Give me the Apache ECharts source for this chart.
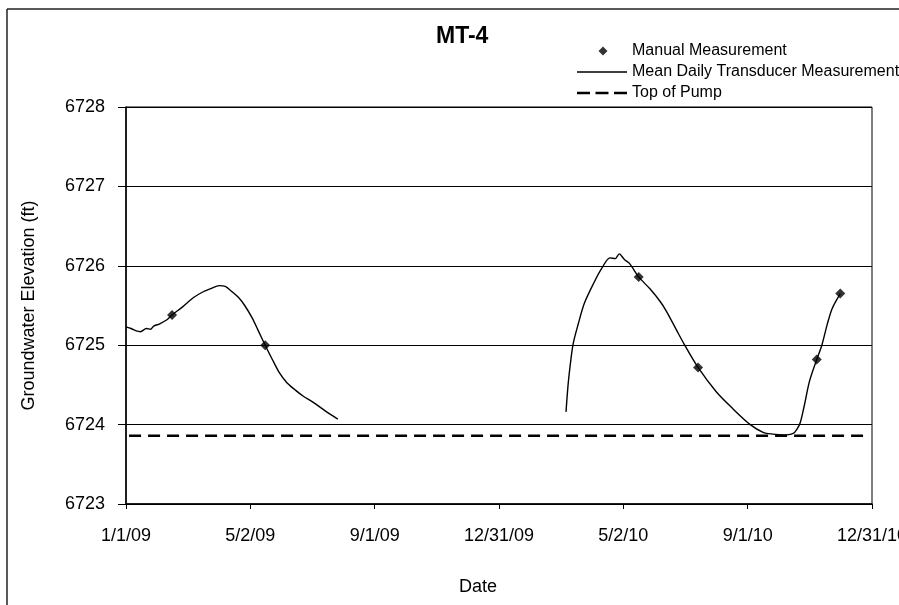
<!DOCTYPE html>
<html>
<head>
<meta charset="utf-8">
<script src="https://cdn.jsdelivr.net/npm/echarts@6/dist/echarts.min.js"></script>
<style>
  html, body { margin: 0; padding: 0; background: #fff; overflow: hidden; }
  #chart { width: 899px; height: 605px; }
</style>
</head>
<body>
<div id="chart"></div>
<script>
// ---- Data ----
const xTickLabels = ['1/1/09', '5/2/09', '9/1/09', '12/31/09', '5/2/10', '9/1/10', '12/31/10'];

const manualDates  = ['2009-02-15', '2009-05-17', '2010-05-17', '2010-07-14', '2010-11-07', '2010-11-30'];
const manualValues = [6725.38, 6725.00, 6725.86, 6724.72, 6724.82, 6725.65];

const transducer2009Dates = [
  '2009-01-01','2009-01-06','2009-01-11','2009-01-15','2009-01-21','2009-01-25','2009-01-28',
  '2009-02-03','2009-02-10','2009-02-15','2009-02-25','2009-03-08','2009-03-17','2009-03-26',
  '2009-04-02','2009-04-08','2009-04-14','2009-04-21','2009-04-27','2009-05-04','2009-05-10',
  '2009-05-17','2009-05-24','2009-05-31','2009-06-07','2009-06-14','2009-06-23','2009-07-03',
  '2009-07-15','2009-07-27'
];
const transducer2009Values = [
  6725.23, 6725.21, 6725.18, 6725.17, 6725.21, 6725.20, 6725.24,
  6725.27, 6725.32, 6725.38, 6725.48, 6725.60, 6725.67, 6725.72,
  6725.75, 6725.74, 6725.68, 6725.60, 6725.50, 6725.35, 6725.19,
  6725.00, 6724.82, 6724.65, 6724.53, 6724.45, 6724.36, 6724.28,
  6724.17, 6724.07
];

const transducer2010Dates = [
  '2010-03-07','2010-03-09','2010-03-11','2010-03-14','2010-03-19','2010-03-25','2010-04-03',
  '2010-04-11','2010-04-19','2010-04-24','2010-04-28','2010-05-03','2010-05-08','2010-05-17',
  '2010-05-28','2010-06-07','2010-06-13','2010-06-23','2010-07-01','2010-07-14','2010-08-01',
  '2010-08-17','2010-09-03','2010-09-16','2010-09-25','2010-10-05','2010-10-15','2010-10-19',
  '2010-10-22','2010-10-26','2010-10-31','2010-11-07','2010-11-12','2010-11-17','2010-11-22',
  '2010-11-30'
];
const transducer2010Values = [
  6724.16, 6724.50, 6724.74, 6725.02, 6725.27, 6725.53, 6725.78,
  6725.97, 6726.10, 6726.09, 6726.15, 6726.08, 6726.03, 6725.86,
  6725.71, 6725.55, 6725.43, 6725.19, 6725.00, 6724.72, 6724.41,
  6724.20, 6724.00, 6723.90, 6723.88, 6723.87, 6723.89, 6723.95,
  6724.03, 6724.25, 6724.55, 6724.82, 6725.00, 6725.25, 6725.46,
  6725.65
];

const topOfPumpDates  = ['2009-01-04', '2010-12-28'];
const topOfPumpValues = [6723.86, 6723.86];

// ---- helpers ----
const DAY = 86400000;
const origin = Date.UTC(2009, 0, 1);
function dayOf(s) {
  const p = s.split('-').map(Number);
  return (Date.UTC(p[0], p[1] - 1, p[2]) - origin) / DAY;
}
function pairs(dates, values) {
  return dates.map((d, i) => [dayOf(d), values[i]]);
}

const transducerData = pairs(transducer2009Dates, transducer2009Values)
  .concat([[300, null]])
  .concat(pairs(transducer2010Dates, transducer2010Values));

// legend icons (50 x 12 boxes; zero-area corner points fix the box size)
const BOX = 'M0,0L0.01,0Z M50,12L49.99,12Z ';
const iconDiamond = 'path://' + BOX + 'M26,1.5L30.5,6L26,10.5L21.5,6Z';
const iconSolid   = 'path://' + BOX + 'M0,5.3H50V6.7H0Z';
const iconDashed  = 'path://' + BOX + 'M0,4.75H13V7.25H0Z M18.5,4.75H31.5V7.25H18.5Z M37,4.75H50V7.25H37Z';

const FONT = "'Liberation Sans', Arial, sans-serif";
const chart = echarts.init(document.getElementById('chart'), null, { renderer: 'canvas' });

chart.setOption({
  animation: false,
  backgroundColor: '#fff',
  title: {
    text: 'MT-4',
    left: 431,
    top: 20,
    textStyle: { fontFamily: FONT, fontSize: 23, fontWeight: 'bold', color: '#000' }
  },
  legend: {
    orient: 'vertical',
    left: 572,
    top: 38,
    itemWidth: 50,
    itemHeight: 12,
    itemGap: 5,
    itemStyle: { color: '#000', borderWidth: 0 },
    lineStyle: { width: 0 },
    textStyle: { fontFamily: FONT, fontSize: 16, color: '#000', lineHeight: 16 },
    data: [
      { name: 'Manual Measurement', icon: iconDiamond },
      { name: 'Mean Daily Transducer Measurement', icon: iconSolid },
      { name: 'Top of Pump', icon: iconDashed }
    ]
  },
  grid: {
    left: 126, top: 107, right: 27, bottom: 101,
    show: true, borderColor: '#000', borderWidth: 1,
    containLabel: false, outerBoundsMode: 'none'
  },
  xAxis: {
    type: 'value',
    min: 0, max: 729, interval: 121.5,
    name: 'Date',
    nameLocation: 'middle',
    nameGap: 74,
    nameTextStyle: { fontFamily: FONT, fontSize: 18, color: '#000', padding: [0, 42, 0, 0] },
    axisLine: { show: true, lineStyle: { color: '#000', width: 1.5 } },
    axisTick: { show: true, length: 5, lineStyle: { color: '#000' } },
    axisLabel: {
      fontFamily: FONT, fontSize: 18, color: '#000', margin: 23,
      showMinLabel: true, showMaxLabel: true, hideOverlap: false,
      formatter: v => xTickLabels[Math.round(v / 121.5)] || ''
    },
    splitLine: { show: false }
  },
  yAxis: {
    type: 'value',
    min: 6723, max: 6728, interval: 1,
    name: 'Groundwater Elevation (ft)',
    nameLocation: 'middle',
    nameGap: 88,
    nameTextStyle: { fontFamily: FONT, fontSize: 18, color: '#000' },
    axisLine: { show: true, lineStyle: { color: '#000', width: 1.5 } },
    axisTick: { show: true, length: 8, lineStyle: { color: '#000' } },
    axisLabel: { fontFamily: FONT, fontSize: 18, color: '#000', margin: 21, formatter: v => String(v) },
    splitLine: { show: true, lineStyle: { color: '#000', width: 1 } }
  },
  graphic: [
    { type: 'line', shape: { x1: 7, y1: 9, x2: 899, y2: 9 }, style: { stroke: '#222', lineWidth: 1.5 }, silent: true },
    { type: 'line', shape: { x1: 7, y1: 9, x2: 7, y2: 605 }, style: { stroke: '#222', lineWidth: 1.5 }, silent: true }
  ],
  series: [
    {
      name: 'Manual Measurement',
      type: 'scatter',
      symbol: 'diamond',
      symbolSize: 10,
      itemStyle: { color: '#000' },
      z: 5,
      data: pairs(manualDates, manualValues)
    },
    {
      name: 'Mean Daily Transducer Measurement',
      type: 'line',
      showSymbol: false,
      symbol: 'none',
      smooth: 0.3,
      connectNulls: false,
      lineStyle: { color: '#000', width: 1.4 },
      itemStyle: { color: '#000' },
      data: transducerData
    },
    {
      name: 'Top of Pump',
      type: 'line',
      showSymbol: false,
      symbol: 'none',
      lineStyle: { color: '#000', width: 2.5, type: [12, 7] },
      itemStyle: { color: '#000' },
      data: pairs(topOfPumpDates, topOfPumpValues)
    }
  ]
});
</script>
</body>
</html>
